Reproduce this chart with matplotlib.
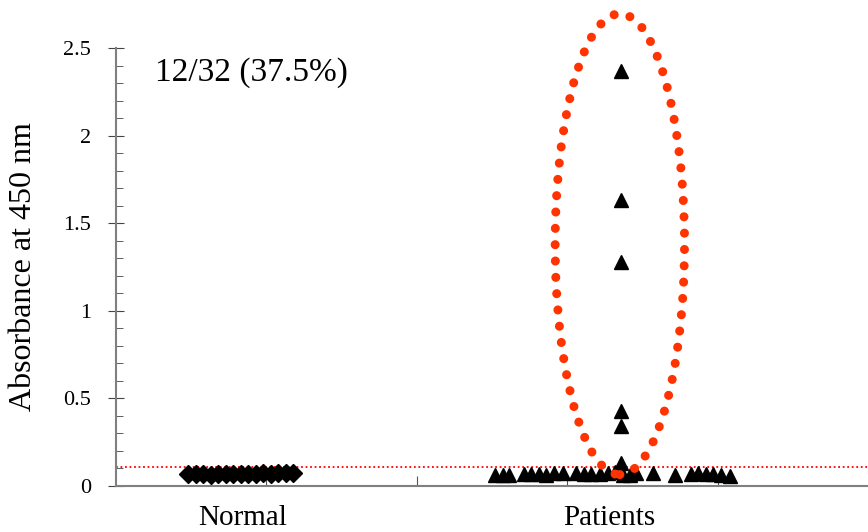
import matplotlib
matplotlib.use("Agg")
import matplotlib.pyplot as plt
import matplotlib.patches as patches
from matplotlib.ticker import MultipleLocator

plt.rcParams['font.family'] = ['Liberation Serif', 'DejaVu Serif']

# group labels and where they sit on the x axis
groups = ["Normal", "Patients"]
group_pos = [0.84, 3.28]

# normal controls (diamonds)
normal_x = [0.48, 0.53, 0.58, 0.63, 0.68, 0.73, 0.78, 0.83,
            0.88, 0.93, 0.98, 1.03, 1.08, 1.13, 1.18]
normal_y = [0.068, 0.066, 0.067, 0.065, 0.066, 0.068, 0.066, 0.067,
            0.068, 0.070, 0.072, 0.069, 0.074, 0.075, 0.076]

# patients (triangles)
patient_x = [2.52, 2.57, 2.61, 2.71, 2.76, 2.81, 2.86, 2.91, 2.97,
             3.06, 3.11, 3.16, 3.22, 3.27, 3.32, 3.37, 3.42, 3.46,
             3.57, 3.72, 3.82, 3.87, 3.92, 3.97, 4.02, 4.08,
             3.36, 3.36, 3.36, 3.36, 3.36, 3.36]
patient_y = [0.065, 0.065, 0.065, 0.068, 0.07, 0.066, 0.065, 0.072, 0.075,
             0.075, 0.068, 0.068, 0.07, 0.072, 0.078, 0.06, 0.065, 0.075,
             0.075, 0.065, 0.068, 0.072, 0.066, 0.07, 0.065, 0.055,
             2.37, 1.63, 1.28, 0.43, 0.34, 0.13]

cutoff = 0.11
note = "12/32 (37.5%)"

fig = plt.figure(figsize=(8.68, 5.32), dpi=100)
ax = fig.add_axes([0.1336, 0.0865, 0.8664, 0.8233])

ax.axhline(cutoff, color="#ff0000", lw=1.3, ls=(0, (1, 1.5)), zorder=1)

ax.plot(normal_x, normal_y, ls="none", marker="D", ms=9, color="black", zorder=3)
ax.plot(patient_x, patient_y, ls="none", marker="^", ms=10, color="black", zorder=3)

# dotted ring around the positive patients
ring = patches.Ellipse((3.35, 1.38), 0.86, 2.63, fill=False,
                       edgecolor="#ff3300", lw=6.5,
                       ls=(0, (0.01, 1.8)), capstyle="round",
                       clip_on=False, zorder=4)
ax.add_patch(ring)

ax.text(0.26, 2.36, note, fontsize=24, ha="left", va="center")

ax.set_xlim(0, 5)
ax.set_ylim(0, 2.5)
ax.set_xticks([1, 2, 3, 4])
ax.set_xticklabels([])
ax.set_xticks(group_pos, minor=True)
ax.set_xticklabels(groups, minor=True, fontsize=21)
ax.tick_params(axis="x", which="major", direction="in", length=7, color="#555555")
ax.tick_params(axis="x", which="minor", length=0, pad=14)

ax.yaxis.set_major_locator(MultipleLocator(0.5))
ax.yaxis.set_minor_locator(MultipleLocator(0.1))
ax.set_yticks([0, 0.5, 1, 1.5, 2, 2.5])
ax.set_yticklabels(["0", "0.5", "1", "1.5", "2", "2.5"], fontsize=16)
ax.tick_params(axis="y", which="major", direction="inout", length=12, color="#444444", pad=12)
ax.tick_params(axis="y", which="minor", direction="in", length=5, color="#444444")

ax.set_ylabel("Absorbance at 450 nm", fontsize=23, labelpad=18)

for side in ["top", "right"]:
    ax.spines[side].set_visible(False)
for side in ["left", "bottom"]:
    ax.spines[side].set_color("#808080")
    ax.spines[side].set_linewidth(1.5)

fig.savefig("out.png", dpi=100)
